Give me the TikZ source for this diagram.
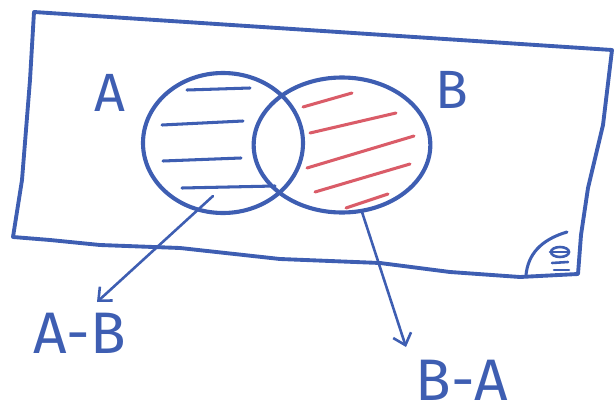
\documentclass[tikz,border=0pt]{standalone}
\usepackage{fontspec}
\setmainfont{Fira Sans}
\usetikzlibrary{shapes.geometric,arrows.meta}
\definecolor{ink}{RGB}{62,94,178}
\definecolor{redink}{RGB}{218,92,104}
\tikzset{
  frame/.style={draw=ink, line width=3.3pt, line join=round, line cap=round},
  setshape/.style={ellipse, draw=ink, line width=3.5pt, inner sep=0pt, outer sep=0pt},
  bluehatch/.style={draw=ink, line width=2.6pt, line cap=round},
  redhatch/.style={draw=redink, line width=2.6pt, line cap=round},
  pointer/.style={draw=ink, line width=2.2pt, line cap=round,
    -{Straight Barb[length=9pt, width=16pt, line width=2.2pt]}},
  lbl/.style={text=ink, font=\fontsize{50}{54}\selectfont, inner sep=0pt},
  setlbl/.style={text=ink, font=\fontsize{46}{50}\selectfont, inner sep=0pt}
}
\begin{document}
\begin{tikzpicture}[x=0.03cm, y=-0.03cm]
\useasboundingbox (0,0) rectangle (614,419);
% universal set frame
\draw[frame] (34,12) -- (612,50) -- (603,125) -- (588,188) -- (581,235) -- (578,274)
  -- (520,277) -- (450,272) -- (380,263) -- (280,259) -- (180,248) -- (100,245)
  -- (50,240) -- (13,237) -- (22,180) -- (30,80) -- cycle;
% corner symbol
\draw[frame, line width=2.6pt] (567,232) .. controls (540,240) and (528,255) .. (526,275);
\draw[bluehatch, line width=2.2pt] (560,252) ellipse [x radius=9, y radius=5];
\draw[bluehatch, line width=2.2pt] (550,252) -- (569,252);
\draw[bluehatch, line width=2.2pt] (552,263) -- (568,262);
\draw[bluehatch, line width=2.2pt] (554,270) -- (569,270);
% sets
\node[setshape, minimum width=4.8cm, minimum height=4.2cm] (A) at (223,143) {};
\node[setshape, minimum width=5.3cm, minimum height=4.05cm] (B) at (342,145) {};
% hatching A - B
\draw[bluehatch] (187,90) -- (250,88);
\draw[bluehatch] (162,125) -- (243,121);
\draw[bluehatch] (163,161) -- (241,158);
\draw[bluehatch] (182,188) -- (275,186);
% hatching B - A
\draw[redhatch] (303,107) -- (352,93);
\draw[redhatch] (310,133) -- (396,113);
\draw[redhatch] (307,168) -- (414,136);
\draw[redhatch] (315,192) -- (410,164);
\draw[redhatch] (346,208) -- (388,194);
% set labels
\node[setlbl] (la) at (110,93) {A};
\node[setlbl] (lb) at (452,90) {B};
% result labels
\node[lbl] (amb) at (80,333) {A-B};
\node[lbl] (bma) at (462,380) {B-A};
\coordinate (pa) at (213,196);
\coordinate (pb) at (362,212);
\coordinate (ta) at (97,302);
\coordinate (tb) at (406,347);
\draw[pointer] (pa) -- (ta);
\draw[pointer] (pb) -- (tb);
\end{tikzpicture}
\end{document}
